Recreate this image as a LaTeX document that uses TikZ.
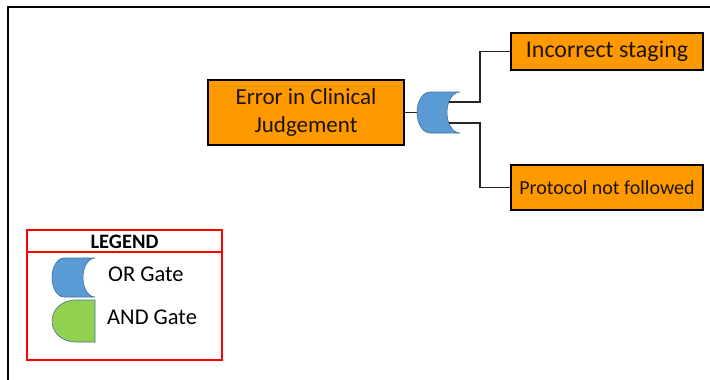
\documentclass[tikz,border=0pt]{standalone}
\usepackage{fontspec}
\setmainfont{Carlito}
\definecolor{boxorange}{HTML}{FF9900}
\definecolor{orblue}{HTML}{5B9BD5}
\definecolor{orline}{HTML}{41719C}
\definecolor{andgreen}{HTML}{92D050}
\definecolor{legred}{HTML}{FF0000}
\begin{document}
\begin{tikzpicture}[x=1pt,y=-1pt,
  eventbox/.style={draw=black, line width=2.6pt, fill=boxorange, inner sep=0pt,
    align=center, text=black!85!brown},
  conn/.style={draw=black!85, line width=1.5pt},
  gatefill/.style={fill=orblue, draw=orline, line width=0.6pt},
  andfill/.style={fill=andgreen, draw=orline, line width=0.6pt},
  lbl/.style={inner sep=0pt, anchor=west, text=black}]
\useasboundingbox (0,0) rectangle (710,380);
% frame
\draw[line width=2pt, black] (8,380) -- (8,7) -- (710,7);

% event boxes
\node[eventbox, minimum width=196pt, minimum height=65pt,
  font=\fontsize{23}{28}\selectfont] (err) at (306,112.5) {Error in Clinical\\Judgement};
\node[eventbox, minimum width=192pt, minimum height=37pt,
  font=\fontsize{24}{28}\selectfont] (top) at (607,51.5) {Incorrect staging};
\node[eventbox, minimum width=192pt, minimum height=45pt,
  font=\fontsize{20}{24}\selectfont] (bot) at (607,187.5) {Protocol not followed};

% OR gate
\node[minimum width=43pt, minimum height=41pt, inner sep=0pt] (gate) at (438.5,112.5) {};
\path[gatefill] (460,92) -- (430,92) arc[start angle=270, end angle=90, x radius=13, y radius=20.5]
  -- (460,133) arc[start angle=90, end angle=270, x radius=13, y radius=20.5] -- cycle;
\coordinate (g1) at (448.8,102);
\coordinate (g2) at (448.8,123);

% connectors
\draw[conn] (err.east) -- (gate.west);
\draw[conn] (g1) -- ++(31.2,0) |- (top.west);
\draw[conn] (g2) -- ++(31.2,0) |- (bot.west);

% legend
\node[draw=legred, line width=1.5pt, minimum width=195pt, minimum height=130pt, inner sep=0pt] (legend) at (124.5,295) {};
\draw[draw=legred, line width=1.5pt] (legend.west |- 0,252) -- (legend.east |- 0,252);
\node[inner sep=0pt, font=\bfseries\fontsize{20.5}{24}\selectfont] (legtitle) at (124.5,241.5) {LEGEND};

\path[gatefill] (95,258) -- (64,258) arc[start angle=270, end angle=90, x radius=12, y radius=19.5]
  -- (95,297) arc[start angle=90, end angle=270, x radius=12, y radius=19.5] -- cycle;
\node[lbl, font=\fontsize{22.5}{26}\selectfont] (orlbl) at (108,274) {OR Gate};

\path[andfill] (95,300) -- (75,300) arc[start angle=270, end angle=90, x radius=23, y radius=21]
  -- (95,342) -- cycle;
\node[lbl, font=\fontsize{22.5}{26}\selectfont] (andlbl) at (107,317) {AND Gate};
\end{tikzpicture}
\end{document}
